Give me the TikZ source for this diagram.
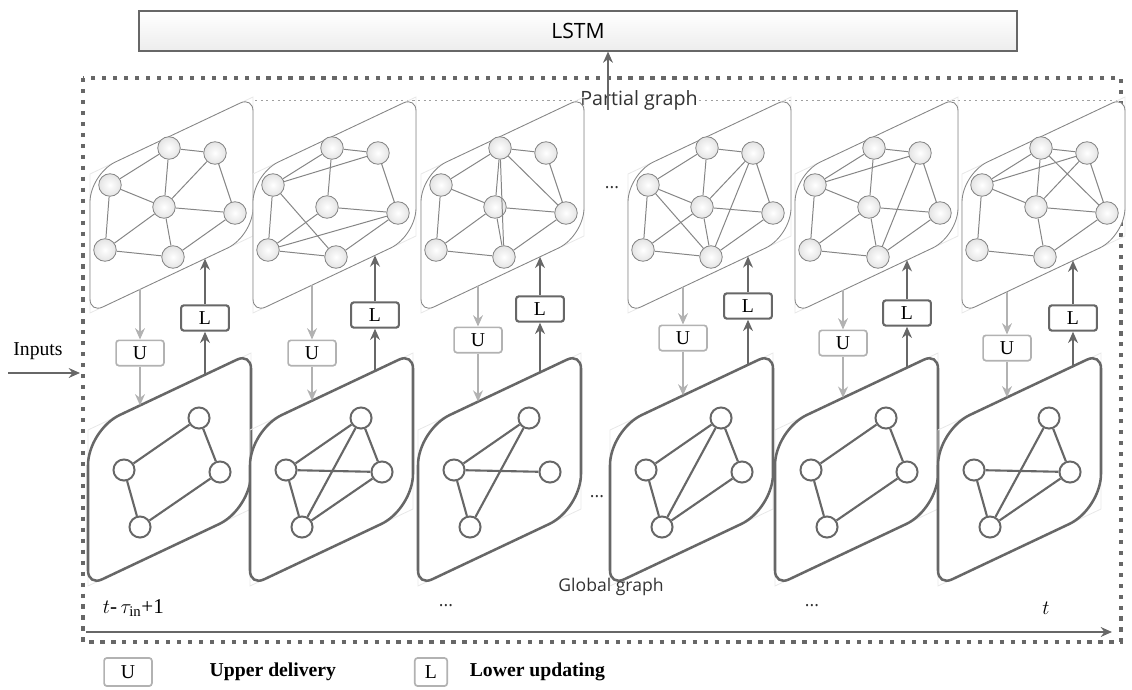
\documentclass[tikz,border=0pt]{standalone}
\usepackage{fontspec}
\setmainfont{Liberation Serif}
\setsansfont{Open Sans}
\usetikzlibrary{arrows.meta,positioning}

\definecolor{darkline}{HTML}{676767}
\definecolor{midline}{HTML}{858585}
\definecolor{lightline}{HTML}{B2B2B2}
\definecolor{nodefill}{HTML}{EFEFEF}

\begin{document}
\begin{tikzpicture}[x=0.025cm, y=-0.025cm, >={Stealth[length=8pt,width=7pt]},
    psheet/.style={draw=midline, fill=white, line width=0.6pt},
    gsheet/.style={draw=darkline, fill=white, line width=1.8pt},
    backsheet/.style={draw=gray!18, line width=0.6pt},
    pnode/.style={circle, draw=midline, inner color=white, outer color=nodefill!90!gray, line width=0.6pt, minimum size=16pt, inner sep=0pt},
    gnode/.style={circle, draw=darkline, fill=white, line width=1.4pt, minimum size=15pt, inner sep=0pt},
    pedge/.style={midline, line width=0.7pt},
    gedge/.style={darkline, line width=1.5pt},
    opbox/.style={rounded corners=2pt, fill=white, minimum width=34pt, minimum height=18pt, inner sep=0pt, font=\fontsize{14}{14}\selectfont},
    ubox/.style={opbox, draw=lightline, line width=1.2pt},
    lbox/.style={opbox, draw=darkline, line width=1.5pt},
    uarrow/.style={->, lightline, line width=1.5pt},
    larrow/.style={->, darkline, line width=1.8pt},
    frame/.style={darkline, line width=2.2pt, dash pattern=on 3pt off 4.8pt},
    guide/.style={gray!75, line width=0.6pt, dash pattern=on 1.5pt off 2.5pt},
    sheetlabel/.style={font=\sffamily\fontsize{12.5}{12.5}\selectfont, text=black!80},
    legtext/.style={font=\bfseries\fontsize{14}{14}\selectfont, anchor=west},
  ]
  \def\pw{163} \def\rise{77}
  \def\ptop{174} \def\ph{139}
  \def\gtop{430} \def\gh{156}
  \useasboundingbox (0,0) rectangle (1132,690);

  % LSTM on top
  \node[draw=darkline, line width=1.2pt, top color=white, bottom color=gray!14,
        minimum width=624pt, minimum height=28pt, inner sep=0pt,
        font=\sffamily\fontsize{15}{15}\selectfont] (lstm) at (578,31) {LSTM};

  % dotted window
  \draw[frame] (83,78) rectangle (1121,642);
  \draw[guide] (255,100) -- (1120,100);
  \node[sheetlabel, font=\sffamily\fontsize{14}{14}\selectfont, fill=white, inner sep=1pt] (pg) at (639,100) {Partial graph};
  \coordinate (pgout) at (608,110);
  \draw[->, darkline, line width=1.5pt] (pgout) -- (pgout |- lstm.south);

  % sheets and their nodes (obtuse corners get the wide rounding)
  \foreach \c/\xp/\xg in {1/90/88, 2/253/250, 3/421/418, 4/628/610, 5/795/775, 6/962/938} {
    \draw[backsheet] (\xp,\ptop) -- ++(\pw,-\rise) -- ++(0,\ph) -- ++(-\pw,\rise) -- cycle;
    \draw[psheet] (\xp,\ptop+\ph/2) [rounded corners=20pt] -- (\xp,\ptop)
      [rounded corners=10pt] -- ++(\pw,-\rise) [rounded corners=20pt] -- ++(0,\ph)
      [rounded corners=10pt] -- ++(-\pw,\rise) -- cycle;
    \foreach \n/\dx/\y in {A/20/185, B/79/148, C/125/153, D/74/207, E/145/213, F/15/250, G/83/257}
      \node[pnode] (p\c\n) at (\xp+\dx,\y) {};
    \draw[backsheet] (\xg,\gtop) -- ++(\pw,-\rise) -- ++(0,\gh) -- ++(-\pw,\rise) -- cycle;
    \draw[gsheet] (\xg,\gtop+\gh/2) [rounded corners=25pt] -- (\xg,\gtop)
      [rounded corners=11pt] -- ++(\pw,-\rise) [rounded corners=25pt] -- ++(0,\gh)
      [rounded corners=11pt] -- ++(-\pw,\rise) -- cycle;
    \foreach \n/\dx/\y in {P/111/418, Q/36/470, R/132/472, S/52/527}
      \node[gnode] (g\c\n) at (\xg+\dx,\y) {};
  }

  % partial graph edges
  \foreach \c/\elist in {
      1/{A/B,B/C,C/E,A/D,B/D,C/D,D/E,A/F,F/D,D/G,F/G,G/E},
      2/{A/B,B/C,C/E,A/C,B/D,D/E,A/F,A/G,F/D,F/E,F/G,G/E},
      3/{A/B,B/C,C/E,A/D,B/D,B/G,B/E,D/E,D/G,F/D,A/F,F/G,G/E},
      4/{A/B,B/C,C/E,A/D,A/G,B/D,C/D,C/G,D/E,D/G,F/D,A/F,F/G,G/E},
      5/{A/B,B/C,C/E,A/C,A/D,B/D,D/E,C/G,D/G,F/D,A/F,F/G,G/E},
      6/{A/B,B/C,C/E,A/C,B/D,B/E,C/D,A/D,D/E,D/G,A/F,F/G,G/E}}
    \foreach \na/\nb in \elist
      \draw[pedge] (p\c\na) -- (p\c\nb);

  % global graph edges
  \foreach \c/\elist in {
      1/{Q/P,P/R,R/S,Q/S},
      2/{Q/P,P/R,Q/R,P/S,Q/S,R/S},
      3/{Q/P,Q/R,P/S,Q/S},
      4/{Q/P,P/R,R/S,Q/S,P/S},
      5/{Q/P,P/R,R/S,Q/S},
      6/{Q/R,P/S,P/R,R/S,Q/S}}
    \foreach \na/\nb in \elist
      \draw[gedge] (g\c\na) -- (g\c\nb);

  % U and L between the two layers
  \foreach \c/\xp/\xg/\ux/\uy/\lx/\ly in {1/90/88/140/353/205/318, 2/253/250/312/353/375/315,
      3/421/418/478/340/540/309, 4/628/610/683/338/748/306,
      5/795/775/843/343/907/313, 6/962/938/1007/348/1073/318} {
    \node[ubox] (u\c) at (\ux,\uy) {U};
    \node[lbox] (l\c) at (\lx,\ly) {L};
    \coordinate (pu\c) at (\ux,{\ptop+\ph-\rise/\pw*(\ux-\xp)});
    \coordinate (gu\c) at (\ux,{\gtop-\rise/\pw*(\ux-\xg)});
    \coordinate (pl\c) at (\lx,{\ptop+\ph-\rise/\pw*(\lx-\xp)});
    \coordinate (gl\c) at (\lx,{\gtop-\rise/\pw*(\lx-\xg)});
    \draw[uarrow] (pu\c) -- (u\c);
    \draw[uarrow] (u\c) -- (gu\c);
    \draw[larrow] (gl\c) -- (l\c);
    \draw[larrow] (l\c) -- (pl\c);
  }

  \node[sheetlabel] at (612,188) {...};
  \node[sheetlabel] at (597,497) {...};
  \node[sheetlabel] (gg) at (611,587) {Global graph};

  % input
  \node[font=\fontsize{14}{14}\selectfont] (inp) at (38,351) {Inputs};
  \coordinate (in0) at (8,373);
  \coordinate (in1) at (80,373);
  \draw[->, darkline, line width=1.3pt] (in0) -- (in1);

  % time axis
  \coordinate (t0) at (86,632);
  \coordinate (t1) at (1112,632);
  \draw[->, darkline, line width=2pt] (t0) -- (t1);
  \node[font=\fontsize{15}{15}\selectfont, anchor=west] (tstart) at (98,608) {$t$-\,$\tau_{\mathrm{in}}$+1};
  \node[sheetlabel] at (446,606) {...};
  \node[sheetlabel] at (812,606) {...};
  \node[font=\fontsize{15}{15}\selectfont] (tend) at (1046,608) {$t$};

  % legend
  \node[ubox, minimum height=20pt] (legU) at (128,672) {U};
  \node[legtext, right=37pt of legU] {Upper delivery};
  \node[ubox, minimum width=23pt, minimum height=20pt] (legL) at (431,672) {L};
  \node[legtext, right=12pt of legL] {Lower updating};
\end{tikzpicture}
\end{document}
